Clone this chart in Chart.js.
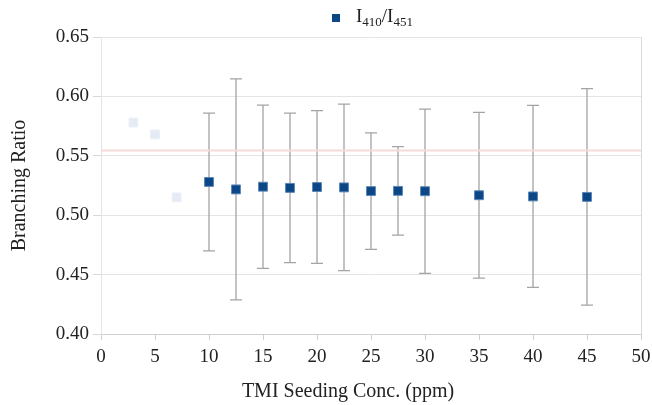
<!DOCTYPE html>
<html>
<head>
<meta charset="utf-8">
<title>Branching Ratio</title>
<script src="https://cdn.jsdelivr.net/npm/chart.js"></script>
<style>
  html, body { margin:0; padding:0; background:#fff; }
  .wrap { position:relative; width:652px; height:405px; }
  #legend { position:absolute; left:332px; top:5px; font-family:"Liberation Serif", serif; font-size:19px; color:#222; white-space:nowrap; }
  #legend .box { display:inline-block; width:8px; height:8px; background:#0b4786; margin-right:16px; vertical-align:0px; }
  #legend sub { font-size:13px; vertical-align:-4px; line-height:0; }
</style>
</head>
<body>
<div class="wrap">
  <div id="legend"><span class="box"></span>I<sub>410</sub>/I<sub>451</sub></div>
  <canvas id="chart" width="652" height="405"></canvas>
</div>

<script>
// TMI seeding concentration (ppm) and measured branching ratio
const conc = [10, 12.5, 15, 17.5, 20, 22.5, 25, 27.5, 30, 35, 40, 45];
const ratio = [0.528, 0.5217, 0.524, 0.523, 0.5237, 0.5234, 0.5203, 0.5205, 0.5202, 0.5168, 0.5158, 0.5154];
const ratioErr = [0.058, 0.093, 0.0687, 0.063, 0.0643, 0.0701, 0.049, 0.0373, 0.0691, 0.0697, 0.0766, 0.0911];

// low-concentration points, shown faded
const faintConc = [3, 5, 7];
const faintRatio = [0.578, 0.568, 0.515];

// reference level
const refRatio = 0.5545;

const xTicks = [0, 50, 5];
const yTicks = [0.40, 0.65, 0.05];
const xTitle = 'TMI Seeding Conc. (ppm)';

const serif = "'Liberation Serif', 'Times New Roman', serif";

// vertical error bars with caps, drawn under the points
const errorBars = {
  id: 'errorBars',
  beforeDatasetsDraw(chart) {
    const { ctx, scales: { x, y } } = chart;
    ctx.save();
    ctx.strokeStyle = '#a4a4a4';
    ctx.lineWidth = 1.3;
    conc.forEach((c, i) => {
      const px = x.getPixelForValue(c);
      const top = y.getPixelForValue(ratio[i] + ratioErr[i]);
      const bot = y.getPixelForValue(ratio[i] - ratioErr[i]);
      ctx.beginPath();
      ctx.moveTo(px, top); ctx.lineTo(px, bot);
      ctx.moveTo(px - 6, top); ctx.lineTo(px + 6, top);
      ctx.moveTo(px - 6, bot); ctx.lineTo(px + 6, bot);
      ctx.stroke();
    });
    ctx.restore();
  },
  // x axis title sits a little left of the plot centre
  afterDraw(chart) {
    const { ctx } = chart;
    ctx.save();
    ctx.font = '20px ' + serif;
    ctx.fillStyle = '#222';
    ctx.textAlign = 'center';
    ctx.textBaseline = 'alphabetic';
    ctx.fillText(xTitle, 348, 397);
    ctx.restore();
  }
};

new Chart(document.getElementById('chart'), {
  type: 'scatter',
  data: {
    datasets: [
      {
        type: 'line',
        data: [{ x: xTicks[0], y: refRatio }, { x: xTicks[1], y: refRatio }],
        borderColor: '#f7d9d9',
        borderWidth: 2,
        pointRadius: 0,
        order: 3
      },
      {
        data: faintConc.map((c, i) => ({ x: c, y: faintRatio[i] })),
        pointStyle: 'rect',
        pointRadius: 6.3,
        backgroundColor: '#e4ebf5',
        borderColor: '#edf1f7',
        borderWidth: 1,
        order: 2
      },
      {
        data: conc.map((c, i) => ({ x: c, y: ratio[i] })),
        pointStyle: 'rect',
        pointRadius: 6.3,
        backgroundColor: '#0b4786',
        borderColor: '#5d86b6',
        borderWidth: 1,
        order: 1
      }
    ]
  },
  options: {
    responsive: false,
    animation: false,
    layout: { padding: { top: 37, right: 11, bottom: 0, left: 0 } },
    plugins: { legend: { display: false }, tooltip: { enabled: false } },
    scales: {
      x: {
        min: xTicks[0], max: xTicks[1],
        ticks: { stepSize: xTicks[2], color: '#222', font: { family: serif, size: 19 }, padding: 6, maxRotation: 0 },
        grid: {
          color: c => (c.tick && c.tick.value === xTicks[1]) ? '#d9d9d9' : 'rgba(0,0,0,0)',
          tickColor: '#d0d0d0',
          tickLength: 6
        },
        border: { color: '#d0d0d0' },
        afterFit: s => { s.height = 71; s.paddingLeft = 0; s.paddingRight = 0; }
      },
      y: {
        min: yTicks[0], max: yTicks[1],
        ticks: { stepSize: yTicks[2], color: '#222', font: { family: serif, size: 19 }, padding: 4, callback: v => v.toFixed(2) },
        grid: { color: '#e4e4e4', tickColor: '#d8d8d8', tickLength: 8 },
        border: { color: '#e4e4e4' },
        title: { display: true, text: 'Branching Ratio', color: '#222', font: { family: serif, size: 20 }, padding: { top: 8, bottom: 0 } },
        afterFit: s => { s.width = 101; s.paddingTop = 0; s.paddingBottom = 0; }
      }
    }
  },
  plugins: [errorBars]
});
</script>
</body>
</html>
